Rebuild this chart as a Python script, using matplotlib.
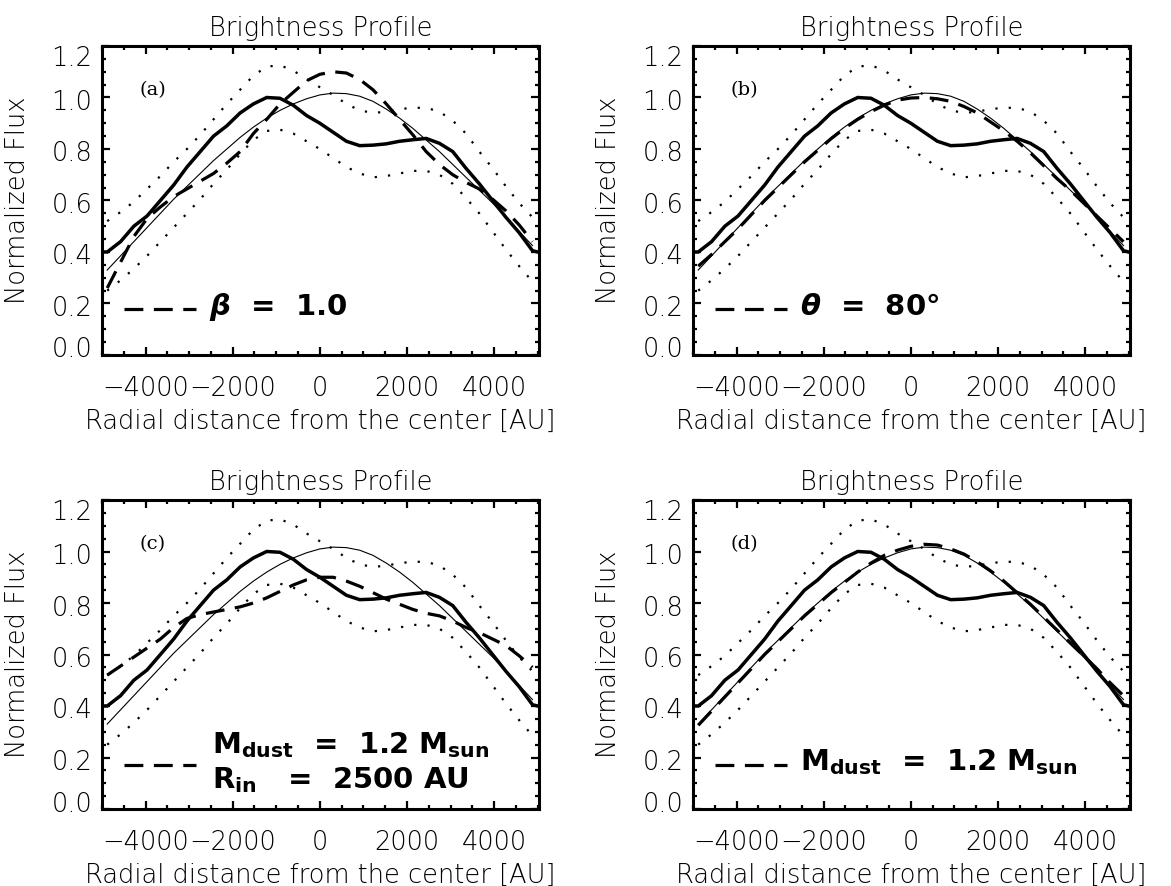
import matplotlib
matplotlib.use("Agg")
import matplotlib.pyplot as plt
from matplotlib.ticker import MultipleLocator
from matplotlib.transforms import ScaledTranslation

# ---------------- data ----------------
x_obs = [-5000, -4880, -4575, -4270, -3965, -3660, -3355, -3050, -2745, -2440, -2135,
         -1830, -1525, -1220, -915, -610, -305, 0, 305, 610, 915, 1220, 1525, 1830,
         2135, 2440, 2745, 3050, 3355, 3660, 3965, 4270, 4575, 4880, 5000]
obs = [0.40, 0.40, 0.44, 0.50, 0.54, 0.60, 0.66, 0.73, 0.79, 0.85, 0.89,
       0.94, 0.975, 1.00, 0.997, 0.97, 0.93, 0.90, 0.865, 0.83, 0.813, 0.815, 0.82, 0.83,
       0.836, 0.841, 0.822, 0.79, 0.725, 0.665, 0.60, 0.535, 0.475, 0.405, 0.40]

x_mod = [-4880, -4575, -4270, -3965, -3660, -3355, -3050, -2745, -2440, -2135, -1830,
         -1525, -1220, -915, -610, -305, 0, 305, 610, 915, 1220, 1525, 1830, 2135,
         2440, 2745, 3050, 3355, 3660, 3965, 4270, 4575, 4880]

obs_upper = [0.52, 0.555, 0.595, 0.645, 0.695, 0.75, 0.80, 0.855, 0.915, 0.975, 1.03,
             1.085, 1.12, 1.125, 1.105, 1.07, 1.04, 1.01, 0.975, 0.95, 0.94, 0.945, 0.955, 0.96,
             0.96, 0.945, 0.91, 0.86, 0.79, 0.725, 0.655, 0.59, 0.535]
obs_lower = [0.25, 0.29, 0.335, 0.385, 0.44, 0.495, 0.55, 0.605, 0.665, 0.72, 0.78,
             0.835, 0.87, 0.875, 0.86, 0.83, 0.80, 0.765, 0.73, 0.705, 0.69, 0.695, 0.705, 0.715,
             0.715, 0.70, 0.665, 0.61, 0.55, 0.48, 0.41, 0.345, 0.285]

model_best = [0.33, 0.385, 0.44, 0.495, 0.55, 0.605, 0.655, 0.705, 0.755, 0.80, 0.845,
              0.885, 0.92, 0.95, 0.975, 0.995, 1.01, 1.017, 1.015, 1.005, 0.985, 0.955, 0.92, 0.88,
              0.835, 0.79, 0.74, 0.69, 0.64, 0.59, 0.535, 0.48, 0.425]

model_beta = [0.26, 0.36, 0.46, 0.53, 0.575, 0.615, 0.645, 0.675, 0.705, 0.745, 0.79,
              0.86, 0.915, 0.975, 1.02, 1.065, 1.09, 1.10, 1.095, 1.07, 1.03, 0.975, 0.915, 0.855,
              0.79, 0.74, 0.70, 0.67, 0.645, 0.605, 0.56, 0.505, 0.44]
model_theta = [0.345, 0.39, 0.44, 0.49, 0.545, 0.60, 0.65, 0.70, 0.75, 0.795, 0.84,
               0.88, 0.915, 0.945, 0.97, 0.99, 0.998, 1.0, 0.995, 0.985, 0.965, 0.94, 0.905, 0.87,
               0.83, 0.785, 0.735, 0.685, 0.64, 0.59, 0.54, 0.49, 0.44]
model_mdust_rin = [0.52, 0.555, 0.59, 0.625, 0.66, 0.705, 0.74, 0.755, 0.765, 0.775, 0.785,
                   0.80, 0.82, 0.845, 0.87, 0.89, 0.90, 0.90, 0.885, 0.865, 0.84, 0.815, 0.795, 0.775,
                   0.76, 0.75, 0.73, 0.705, 0.685, 0.66, 0.635, 0.595, 0.55]
model_mdust = [0.325, 0.38, 0.435, 0.49, 0.545, 0.60, 0.65, 0.70, 0.75, 0.795, 0.84,
               0.88, 0.92, 0.955, 0.985, 1.005, 1.02, 1.028, 1.025, 1.01, 0.99, 0.96, 0.925, 0.885,
               0.84, 0.795, 0.745, 0.695, 0.645, 0.595, 0.545, 0.49, 0.44]

panel_tags = ["(a)", "(b)", "(c)", "(d)"]
variants = [model_beta, model_theta, model_mdust_rin, model_mdust]
legend_texts = [
    [r"$\beta$  =  1.0"],
    [r"$\theta$  =  80°"],
    [r"M$_{\mathbf{dust}}$  =  1.2 M$_{\mathbf{sun}}$", r"R$_{\mathbf{in}}$   =  2500 AU"],
    [r"M$_{\mathbf{dust}}$  =  1.2 M$_{\mathbf{sun}}$"],
]
title = "Brightness Profile"
xlabel = "Radial distance from the center [AU]"
ylabel = "Normalized Flux"

# ---------------- style ----------------
plt.rcParams["font.family"] = ["DejaVu Sans"]
plt.rcParams["font.weight"] = "light"
plt.rcParams["axes.titleweight"] = "light"
plt.rcParams["axes.labelweight"] = "light"
plt.rcParams["axes.unicode_minus"] = True
plt.rcParams["mathtext.fontset"] = "custom"
plt.rcParams["mathtext.it"] = "DejaVu Sans:italic:bold"
plt.rcParams["mathtext.bf"] = "DejaVu Sans:bold"
plt.rcParams["mathtext.rm"] = "DejaVu Sans:bold"

W, H = 1171, 886
fig = plt.figure(figsize=(W / 100, H / 100), dpi=100)

boxes = [(102, 46), (693, 46), (102, 500), (693, 500)]  # left, top in px
aw, ah = 437, 309

fs = 18.5
dash_pat = (5.9, 3.3)
dot_pat = (1.0, 5.0)

for k in range(4):
    lx, ty = boxes[k]
    ax = fig.add_axes([lx / W, 1 - (ty + ah) / H, aw / W, ah / H])
    ax.plot(x_mod, obs_upper, color="black", lw=1.6, linestyle=(0, dot_pat),
            dash_capstyle="butt")
    ax.plot(x_mod, obs_lower, color="black", lw=1.6, linestyle=(0, dot_pat),
            dash_capstyle="butt")
    ax.plot(x_mod, model_best, color="black", lw=0.8)
    ax.plot(x_mod, variants[k], color="black", lw=2.3, linestyle=(0, dash_pat))
    ax.plot(x_obs, obs, color="black", lw=2.5, solid_joinstyle="miter")

    ax.set_xlim(-5000, 5030)
    ax.set_ylim(0, 1.2)
    ax.xaxis.set_major_locator(MultipleLocator(2000))
    ax.xaxis.set_minor_locator(MultipleLocator(500))
    ax.yaxis.set_major_locator(MultipleLocator(0.2))
    ax.yaxis.set_minor_locator(MultipleLocator(0.05))
    ax.yaxis.set_major_formatter(plt.FuncFormatter(lambda v, p: f"{v:.1f}"))
    ax.tick_params(which="both", direction="in", top=True, right=True, width=1.6)
    ax.tick_params(which="major", length=5.5)
    ax.tick_params(which="minor", length=2.8)
    ax.tick_params(axis="x", which="major", pad=15, labelsize=fs)
    ax.tick_params(axis="y", which="major", pad=7, labelsize=fs)
    for s in ax.spines.values():
        s.set_linewidth(2.2)

    ax.set_title(title, fontsize=fs, pad=7)
    ax.set_xlabel(xlabel, fontsize=fs, labelpad=6)
    ax.set_ylabel(ylabel, fontsize=fs)
    ax.yaxis.set_label_coords(-0.165, 0.5)

    # IDL-like vertical placement of y tick labels
    for loc, tick in zip(ax.yaxis.get_majorticklocs(), ax.yaxis.get_major_ticks()):
        if abs(loc) < 1e-6:
            dy = 7.5
        elif abs(loc - 1.2) < 1e-6:
            dy = -10
        else:
            dy = -2.5
        tick.label1.set_transform(tick.label1.get_transform()
                                  + ScaledTranslation(0, dy / 100, fig.dpi_scale_trans))

    ax.text(-4150, 1.03, panel_tags[k], fontsize=14, family="DejaVu Serif",
            fontweight="normal", va="center", ha="left")

    # legend sample
    ly = 0.177 if k < 2 else 0.171
    ax.plot([-4500, -2850], [ly, ly], color="black", lw=2.3, linestyle=(0, dash_pat))
    lines = legend_texts[k]
    if len(lines) == 1:
        ax.text(-2540, ly + 0.01, lines[0], fontsize=21, fontweight="bold",
                va="center", ha="left")
    else:
        ax.text(-2483, 0.216, lines[0], fontsize=21, fontweight="bold", va="baseline", ha="left")
        ax.text(-2483, 0.08, lines[1], fontsize=21, fontweight="bold", va="baseline", ha="left")

fig.savefig("out.png", dpi=100)
